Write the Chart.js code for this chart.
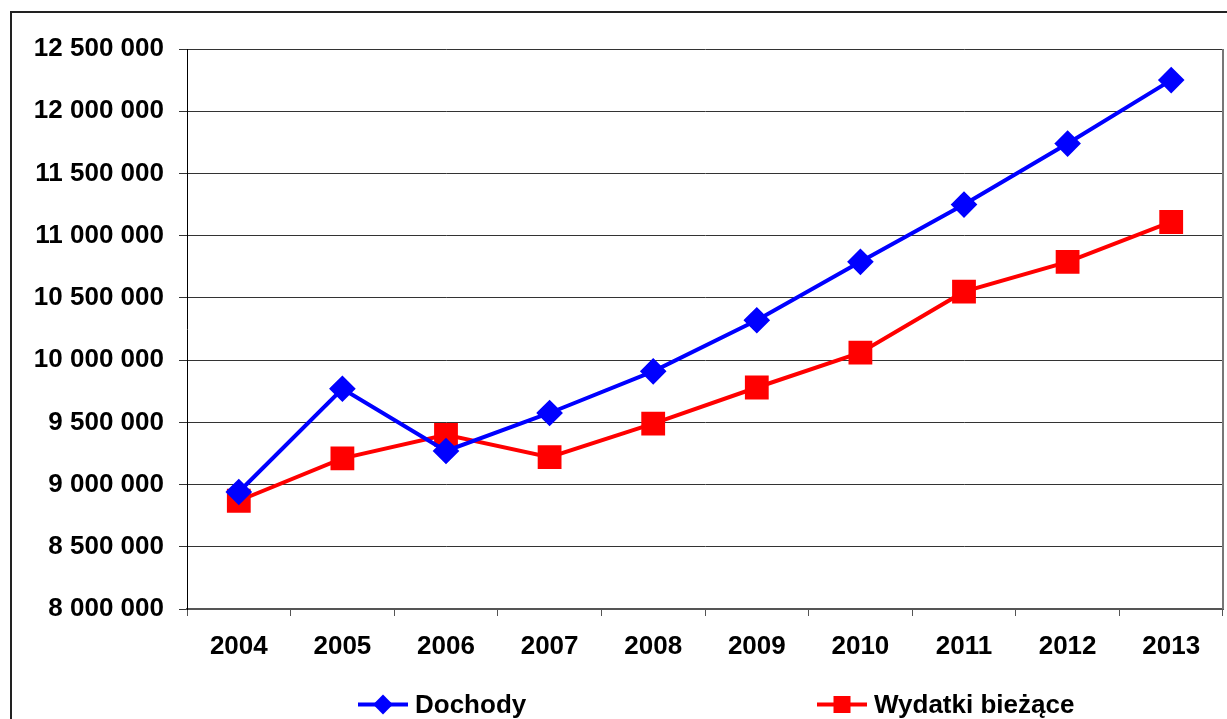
<!DOCTYPE html>
<html>
<head>
<meta charset="utf-8">
<script src="https://cdn.jsdelivr.net/npm/chart.js@4/dist/chart.umd.min.js"></script>
<style>
  html, body { margin: 0; padding: 0; background: #fff; overflow: hidden; }
  #wrap { position: relative; width: 1227px; height: 719px; }
  #frame {
    position: absolute; left: 10px; top: 11px; width: 1300px; height: 800px;
    border: 2px solid #222; box-sizing: border-box;
  }
  #chart { position: absolute; left: 0; top: 0; }
  .leg {
    position: absolute; top: 704px; transform: translateY(-50%);
    display: flex; align-items: center;
    font: bold 26px "Liberation Sans", Arial, sans-serif; color: #000;
  }
  .mark { position: relative; width: 50px; height: 22px; margin-right: 7px; }
  .mark .ln { position: absolute; left: 0; right: 0; top: 9px; height: 4px; }
  .mark .pt { position: absolute; left: 50%; top: 50%; }
</style>
</head>
<body>
<div id="wrap">
  <div id="frame"></div>
  <canvas id="chart" width="1227" height="719"></canvas>
  <div id="legend"></div>
</div>
<script>
const years = ["2004", "2005", "2006", "2007", "2008", "2009", "2010", "2011", "2012", "2013"];
const dochody = [8940000, 9770000, 9270000, 9575000, 9910000, 10320000, 10790000, 11250000, 11740000, 12250000];
const wydatki = [8870000, 9210000, 9400000, 9220000, 9490000, 9780000, 10060000, 10550000, 10790000, 11110000];
const yMin = 8000000;
const yMax = 12500000;
const yStep = 500000;

const fmt = (v) => String(v).replace(/\B(?=(\d{3})+(?!\d))/g, " ");
const tickFont = { family: "'Liberation Sans', Arial, sans-serif", size: 26, weight: "bold" };

// right border of the plot area
const plotFrame = {
  id: "plotFrame",
  afterDraw(chart) {
    const { ctx, chartArea } = chart;
    ctx.save();
    ctx.strokeStyle = "#777";
    ctx.lineWidth = 2;
    ctx.beginPath();
    ctx.moveTo(chartArea.right, chartArea.top);
    ctx.lineTo(chartArea.right, chartArea.bottom);
    ctx.stroke();
    ctx.restore();
  },
};

const chart = new Chart(document.getElementById("chart").getContext("2d"), {
  type: "line",
  data: {
    labels: years,
    datasets: [
      {
        label: "Dochody",
        data: dochody,
        borderColor: "#0000ff",
        backgroundColor: "#0000ff",
        borderWidth: 4,
        pointStyle: "rectRot",
        pointRadius: 10.5,
        pointHoverRadius: 10.5,
        tension: 0,
      },
      {
        label: "Wydatki bieżące",
        data: wydatki,
        borderColor: "#ff0000",
        backgroundColor: "#ff0000",
        borderWidth: 4,
        pointStyle: "rect",
        pointRadius: 14,
        pointHoverRadius: 14,
        tension: 0,
      },
    ],
  },
  plugins: [plotFrame],
  options: {
    responsive: false,
    animation: false,
    layout: { autoPadding: false, padding: { top: 49, right: 4, left: 0, bottom: 0 } },
    plugins: {
      legend: { display: false },
      tooltip: { enabled: false },
    },
    scales: {
      x: {
        offset: true,
        afterFit: (s) => { s.height = 110; },
        grid: {
          offset: true,
          drawOnChartArea: false,
          tickLength: 7,
          color: "#555",
        },
        border: { color: "#555", width: 2 },
        ticks: { color: "#000", font: tickFont, padding: 15, maxRotation: 0 },
      },
      y: {
        min: yMin,
        max: yMax,
        afterFit: (s) => { s.width = 187; },
        grid: { color: "#333", lineWidth: 1, tickLength: 8 },
        border: { color: "#000", width: 1 },
        ticks: {
          stepSize: yStep,
          color: "#000",
          font: tickFont,
          padding: 15,
          callback: (v) => fmt(v),
        },
      },
    },
  },
});

// legend below the chart
const legendPos = [358, 817];
const legend = document.getElementById("legend");
chart.data.datasets.forEach((ds, i) => {
  const item = document.createElement("div");
  item.className = "leg";
  item.style.left = legendPos[i] + "px";
  const mark = document.createElement("div");
  mark.className = "mark";
  const ln = document.createElement("div");
  ln.className = "ln";
  ln.style.background = ds.borderColor;
  const pt = document.createElement("div");
  pt.className = "pt";
  pt.style.background = ds.backgroundColor;
  if (ds.pointStyle === "rectRot") {
    pt.style.width = "14px";
    pt.style.height = "14px";
    pt.style.transform = "translate(-50%, -50%) rotate(45deg)";
  } else {
    pt.style.width = "17px";
    pt.style.height = "17px";
    pt.style.transform = "translate(-50%, -50%)";
  }
  mark.appendChild(ln);
  mark.appendChild(pt);
  const txt = document.createElement("span");
  txt.textContent = ds.label;
  item.appendChild(mark);
  item.appendChild(txt);
  legend.appendChild(item);
});
</script>
</body>
</html>
